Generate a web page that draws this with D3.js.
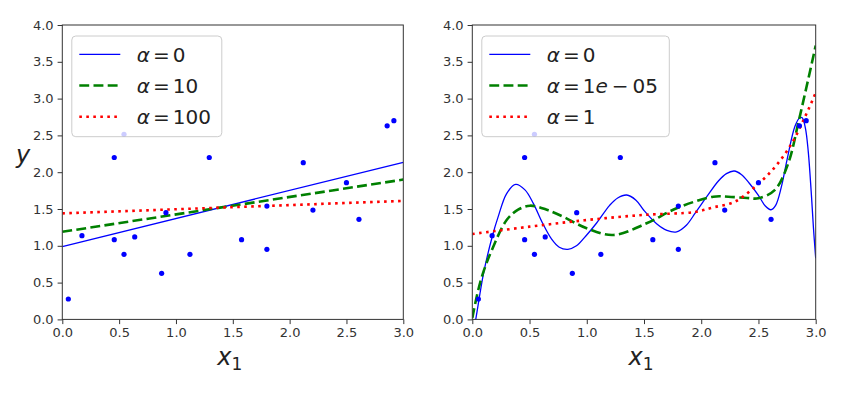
<!DOCTYPE html>
<html>
<head>
<meta charset="utf-8">
<script src="https://d3js.org/d3.v7.min.js"></script>
<style>
  body { margin: 0; background: #fff; }
  svg { font-family: "DejaVu Sans", sans-serif; }
</style>
</head>
<body>
<svg id="canvas" width="851" height="395"></svg>
<script>
  // training points (same in both panels)
  var pointX = [0.053, 0.173, 0.457, 0.457, 0.543, 0.543, 0.637, 0.874, 0.912, 1.123,
                1.293, 1.577, 1.80, 1.80, 2.12, 2.205, 2.50, 2.61, 2.858, 2.917];
  var pointY = [0.277, 1.137, 2.20, 1.083, 2.515, 0.884, 1.12, 0.626, 1.45, 0.884,
                2.20, 1.083, 1.54, 0.952, 2.13, 1.486, 1.857, 1.36, 2.63, 2.70];

  // left panel: plain linear ridge models
  var linX = [0, 3];
  var lin0 = [0.99, 2.134];
  var lin10 = [1.19, 1.90];
  var lin100 = [1.44, 1.61];
  var leftLabels = ['0', '10', '100'];

  // right panel: polynomial ridge models
  var polyX0 = [0, 0.03, 0.10, 0.178, 0.227, 0.30, 0.379, 0.46, 0.533, 0.61, 0.693, 0.76,
                0.835, 0.91, 0.99, 1.086, 1.2, 1.27, 1.349, 1.43, 1.5, 1.61, 1.70, 1.785,
                1.87, 1.95, 2.05, 2.15, 2.22, 2.288, 2.35, 2.42, 2.498, 2.56, 2.609, 2.65,
                2.70, 2.75, 2.818, 2.86, 2.882, 2.91, 2.935, 2.96, 2.98, 3.0];
  var polyY0 = [-0.25, 0.0, 0.64, 1.147, 1.40, 1.71, 1.835, 1.76, 1.577, 1.32, 1.09, 0.98,
                0.952, 1.0, 1.13, 1.31, 1.55, 1.65, 1.69, 1.62, 1.48, 1.30, 1.21, 1.19,
                1.28, 1.45, 1.67, 1.88, 1.98, 2.016, 1.97, 1.85, 1.69, 1.54, 1.49, 1.55,
                1.80, 2.17, 2.62, 2.74, 2.74, 2.60, 2.28, 1.75, 1.25, 0.83];
  var polyX1 = [0, 0.052, 0.10, 0.17, 0.30, 0.40, 0.504, 0.65, 0.795, 0.999, 1.232, 1.523,
                1.785, 2.105, 2.236, 2.40, 2.498, 2.644, 2.76, 2.847, 2.92, 3.0];
  var polyY1 = [0.02, 0.40, 0.66, 0.94, 1.35, 1.49, 1.545, 1.49, 1.395, 1.238, 1.147, 1.306,
                1.51, 1.667, 1.667, 1.65, 1.645, 1.76, 2.12, 2.664, 3.16, 3.72];
  var polyX2 = [0, 0.5, 1.0, 1.5, 1.945, 2.1, 2.294, 2.469, 2.644, 2.79, 2.906, 2.978, 3.0];
  var polyY2 = [1.16, 1.26, 1.35, 1.42, 1.46, 1.52, 1.6, 1.80, 2.07, 2.39, 2.75, 3.00, 3.08];
  var rightLabels = ['0', '1e-05', '1'];

  var ticksX = [0, 0.5, 1, 1.5, 2, 2.5, 3];
  var ticksY = [0, 0.5, 1, 1.5, 2, 2.5, 3, 3.5, 4];

  var svg = d3.select('#canvas');
  var yTop = 25, yBottom = 319.4;

  var styles = [
    { color: '#0000ff', width: 1.3, dash: null },
    { color: '#008000', width: 2.6, dash: '9.9,4.3' },
    { color: '#ff0000', width: 2.6, dash: '2.6,4.4' }
  ];

  function zip(a, b) { return a.map(function(v, i) { return [v, b[i]]; }); }

  function drawPanel(id, left, right, series, smooth, labels) {
    var x = d3.scaleLinear().domain([0, 3]).range([left, right]);
    var y = d3.scaleLinear().domain([0, 4]).range([yBottom, yTop]);
    var g = svg.append('g');

    svg.append('clipPath').attr('id', 'clip' + id)
      .append('rect')
      .attr('x', left).attr('y', yTop)
      .attr('width', right - left).attr('height', yBottom - yTop);

    var line = d3.line()
      .x(function(d) { return x(d[0]); })
      .y(function(d) { return y(d[1]); })
      .curve(smooth ? d3.curveCatmullRom.alpha(0.5) : d3.curveLinear);

    var plot = g.append('g').attr('clip-path', 'url(#clip' + id + ')');
    series.forEach(function(s, i) {
      plot.append('path')
        .attr('d', line(s))
        .attr('fill', 'none')
        .attr('stroke', styles[i].color)
        .attr('stroke-width', styles[i].width)
        .attr('stroke-dasharray', styles[i].dash);
    });
    plot.selectAll('.pt')
      .data(zip(pointX, pointY))
      .enter()
      .append('circle')
      .attr('cx', function(d) { return x(d[0]); })
      .attr('cy', function(d) { return y(d[1]); })
      .attr('r', 2.6)
      .attr('fill', '#0000ff');

    // axes
    var ax = g.append('g')
      .attr('transform', 'translate(0,' + yBottom + ')')
      .call(d3.axisBottom(x).tickValues(ticksX).tickFormat(d3.format('.1f')).tickSize(4.7).tickPadding(4));
    var ay = g.append('g')
      .attr('transform', 'translate(' + left + ',0)')
      .call(d3.axisLeft(y).tickValues(ticksY).tickFormat(d3.format('.1f')).tickSize(4.7).tickPadding(4));
    [ax, ay].forEach(function(a) {
      a.select('.domain').remove();
      a.selectAll('line').attr('stroke', '#333');
      a.selectAll('text')
        .attr('fill', '#333')
        .style('font-family', '"DejaVu Sans", sans-serif')
        .style('font-size', '13px');
    });

    g.append('rect')
      .attr('x', left).attr('y', yTop)
      .attr('width', right - left).attr('height', yBottom - yTop)
      .attr('fill', 'none')
      .attr('stroke', '#333')
      .attr('stroke-width', 1);

    // x label
    var xl = g.append('text')
      .attr('x', (left + right) / 2 - 3)
      .attr('y', 365)
      .attr('text-anchor', 'middle')
      .attr('fill', '#222')
      .style('font-size', '24px');
    xl.append('tspan').attr('font-style', 'italic').text('x');
    xl.append('tspan').attr('dy', 5).style('font-size', '17px').text('1');

    // legend
    var lx = left + 9.5, ly = 36;
    var lw = (id == 0) ? 150 : 187.5;
    var leg = g.append('g');
    leg.append('rect')
      .attr('x', lx).attr('y', ly)
      .attr('width', lw).attr('height', 100.7)
      .attr('rx', 4)
      .attr('fill', 'white').attr('fill-opacity', 0.8)
      .attr('stroke', '#cccccc');
    labels.forEach(function(lab, i) {
      var cy = 54.3 + i * 31.2;
      leg.append('line')
        .attr('x1', lx + 7.5).attr('x2', lx + 48.5)
        .attr('y1', cy).attr('y2', cy)
        .attr('stroke', styles[i].color)
        .attr('stroke-width', styles[i].width)
        .attr('stroke-dasharray', styles[i].dash);
      var t = leg.append('text')
        .attr('x', lx + 65)
        .attr('y', cy + 7.3)
        .attr('fill', '#222')
        .style('font-size', '20px');
      t.append('tspan').attr('font-style', 'italic').text('α');
      t.append('tspan').attr('dx', 3).text('=');
      if (lab == '1e-05') {
        t.append('tspan').attr('dx', 3).text('1');
        t.append('tspan').attr('font-style', 'italic').text('e');
        t.append('tspan').attr('dx', 4).text('−');
        t.append('tspan').attr('dx', 4).text('05');
      } else {
        t.append('tspan').attr('dx', 3).text(lab);
      }
    });
  }

  drawPanel(0, 62.3, 403.3, [zip(linX, lin0), zip(linX, lin10), zip(linX, lin100)], false, leftLabels);
  drawPanel(1, 472.3, 815.7, [zip(polyX0, polyY0), zip(polyX1, polyY1), zip(polyX2, polyY2)], true, rightLabels);

  // y label, only on the left panel
  svg.append('text')
    .attr('x', 23)
    .attr('y', 163)
    .attr('text-anchor', 'middle')
    .attr('fill', '#222')
    .attr('font-style', 'italic')
    .style('font-size', '24px')
    .text('y');
</script>
</body>
</html>
